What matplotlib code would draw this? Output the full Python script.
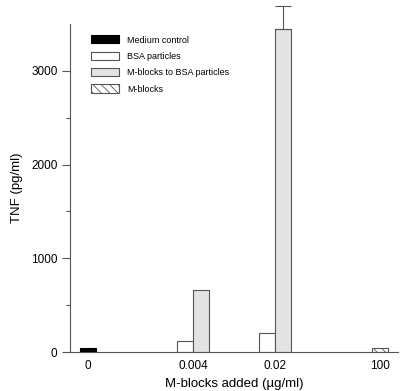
import matplotlib
matplotlib.use("Agg")
from matplotlib import pyplot as plt
import numpy as np

plt.rcParams['font.family'] = ['Liberation Sans', 'DejaVu Sans']

doses = ['0', '0.004', '0.02', '100']
medium_control = [46]
bsa_particles = [120, 202]
mblocks_bsa = [667, 3444]
mblocks_bsa_err = [0, 245]
mblocks = [46]

# layout (x positions of each dose group, in bar-width units)
group_pos = [1.1, 7.7, 12.8, 19.4]
w = 1.0
edge = '#555555'

fig = plt.figure(figsize=(4.0, 3.91), dpi=100)
ax = fig.add_axes([0.175, 0.0997, 0.82, 0.839])

ax.bar([group_pos[0]], medium_control, w, color='black', edgecolor='black',
       linewidth=0.8, label='Medium control')
ax.bar([group_pos[1] - w / 2, group_pos[2] - w / 2], bsa_particles, w,
       color='white', edgecolor=edge, linewidth=0.8, label='BSA particles')
ax.bar([group_pos[1] + w / 2, group_pos[2] + w / 2], mblocks_bsa, w,
       color='#e3e3e3', edgecolor=edge, linewidth=0.8,
       label='M-blocks to BSA particles')
eb = ax.errorbar([group_pos[2] + w / 2], [mblocks_bsa[1]],
                 yerr=[[0], [mblocks_bsa_err[1]]], fmt='none', ecolor=edge,
                 elinewidth=0.8, capsize=6, capthick=0.8)
for part in eb.lines[1] + eb.lines[2]:
    part.set_clip_on(False)
plt.rcParams['hatch.color'] = edge
plt.rcParams['hatch.linewidth'] = 0.6
ax.bar([group_pos[3]], mblocks, w, color='white', edgecolor=edge,
       linewidth=0.8, hatch='\\\\\\\\', label='M-blocks')

ax.set_xlim(0, 20.5)
ax.set_ylim(0, 3500)
ax.set_xticks(group_pos)
ax.set_xticklabels(doses)
ax.set_yticks([0, 1000, 2000, 3000])
ax.set_yticks(np.arange(500, 3500, 1000), minor=True)
ax.tick_params(axis='x', length=0, labelsize=8.5, pad=6)
ax.tick_params(axis='y', which='major', length=6, width=0.8, color=edge,
               labelsize=8.5, pad=3)
ax.tick_params(axis='y', which='minor', length=3, width=0.8, color=edge)

for s in ['top', 'right']:
    ax.spines[s].set_visible(False)
for s in ['left', 'bottom']:
    ax.spines[s].set_color(edge)
    ax.spines[s].set_linewidth(0.8)

ax.set_xlabel('M-blocks added (\u00b5g/ml)', fontsize=9.5, labelpad=4)
ax.set_ylabel('TNF (pg/ml)', fontsize=9.5, labelpad=6)

ax.legend(loc='upper left', bbox_to_anchor=(0.04, 0.99), frameon=False,
          fontsize=6.5, handlelength=3.1, handleheight=1.0,
          labelspacing=0.8, handletextpad=0.9, borderaxespad=0.5)

fig.savefig('out.png', dpi=100)
